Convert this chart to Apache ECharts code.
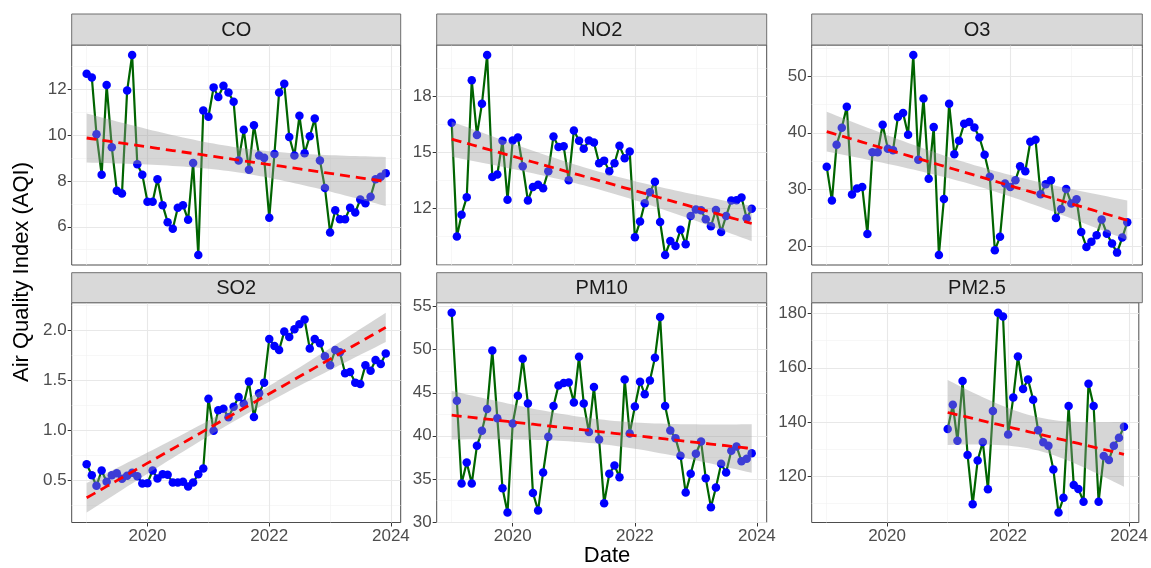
<!DOCTYPE html>
<html>
<head>
<meta charset="utf-8">
<script src="https://cdn.jsdelivr.net/npm/echarts@6/dist/echarts.min.js"></script>
<style>
  html, body { margin: 0; padding: 0; background: #ffffff; }
  #chart { width: 1151px; height: 568px; }
</style>
</head>
<body>
<div id="chart"></div>
<script>
// Monthly observation dates, Jan 2019 – Dec 2023
const firstYear = 2019, lastYear = 2023;
const monthDates = [];
for (let y = firstYear; y <= lastYear; y++) {
  for (let m = 0; m < 12; m++) monthDates.push(Date.UTC(y, m, 1));
}

// Monthly AQI per pollutant
const coValues = [12.66, 12.5, 10.03, 8.27, 12.17, 9.46, 7.57, 7.45, 11.93, 13.48,
  8.72, 8.27, 7.09, 7.09, 8.07, 6.94, 6.2, 5.91, 6.83, 6.94,
  6.3, 8.78, 4.77, 11.06, 10.79, 12.07, 11.65, 12.14, 11.85, 11.44,
  8.89, 10.22, 8.48, 10.42, 9.1, 9.0, 6.39, 9.17, 11.85, 12.23,
  9.91, 9.1, 10.83, 9.2, 9.94, 10.71, 8.89, 7.69, 5.75, 6.72,
  6.33, 6.33, 6.83, 6.62, 7.19, 7.02, 7.31, 8.07, 8.18, 8.33];

const no2Values = [16.57, 10.5, 11.67, 12.6, 18.83, 15.91, 17.58, 20.18, 13.68, 13.81,
  15.61, 12.47, 15.62, 15.78, 14.25, 12.42, 13.15, 13.27, 13.08, 13.99,
  15.84, 15.28, 15.32, 13.5, 16.16, 15.61, 15.18, 15.62, 15.52, 14.41,
  14.55, 13.99, 14.41, 15.34, 14.68, 15.04, 10.46, 11.3, 12.28, 12.86,
  13.42, 11.28, 9.52, 10.26, 10.0, 10.87, 10.09, 11.6, 11.94, 11.9,
  11.42, 11.05, 11.92, 10.75, 11.6, 12.42, 12.44, 12.58, 11.48, 11.99];

const o3Values = [33.99, 28.04, 37.88, 40.88, 44.6, 29.1, 30.16, 30.45, 22.14, 36.58,
  36.58, 41.41, 37.17, 36.94, 42.77, 43.48, 39.65, 53.73, 35.23, 46.07,
  31.87, 41.0, 18.43, 28.33, 45.13, 36.23, 38.59, 41.59, 41.89, 40.94,
  39.17, 36.11, 32.22, 19.26, 21.67, 31.04, 30.45, 31.63, 34.11, 33.22,
  38.41, 38.76, 29.16, 30.93, 31.63, 24.97, 26.56, 30.1, 27.51, 28.27,
  22.5, 19.85, 20.79, 21.91, 24.68, 22.2, 20.44, 18.85, 21.5, 24.21];

const so2Values = [0.664, 0.554, 0.448, 0.601, 0.488, 0.554, 0.574, 0.518, 0.548, 0.578,
  0.544, 0.471, 0.475, 0.601, 0.521, 0.564, 0.558, 0.481, 0.481, 0.488,
  0.441, 0.481, 0.564, 0.621, 1.316, 0.997, 1.2, 1.216, 1.13, 1.236,
  1.333, 1.266, 1.486, 1.133, 1.369, 1.476, 1.911, 1.841, 1.801, 1.984,
  1.931, 2.008, 2.058, 2.104, 1.815, 1.911, 1.868, 1.738, 1.648, 1.801,
  1.778, 1.569, 1.582, 1.476, 1.462, 1.648, 1.595, 1.702, 1.662, 1.765];

const pm10Values = [54.3, 44.07, 34.46, 36.9, 34.46, 38.84, 40.58, 43.1, 49.92, 42.05,
  33.91, 31.09, 41.43, 44.65, 48.95, 43.76, 33.37, 31.32, 35.74, 39.88,
  43.45, 45.85, 46.12, 46.2, 43.88, 49.19, 43.76, 40.43, 45.66, 39.57,
  32.17, 35.58, 36.55, 35.19, 46.55, 40.27, 43.41, 46.28, 44.84, 46.43,
  49.07, 53.8, 43.45, 40.62, 39.73, 37.67, 33.41, 35.58, 37.91, 39.34,
  35.08, 31.71, 33.99, 36.74, 35.74, 38.26, 38.76, 37.05, 37.33, 37.98];

// PM2.5 is only recorded from Jan 2021
const pm25Values = [null, null, null, null, null, null, null, null, null, null, null, null,
  null, null, null, null, null, null, null, null, null, null, null, null,
  137.42, 146.4, 133.1, 155.1, 127.9, 109.7, 125.9, 132.7, 115.3, 144.1,
  180.3, 178.9, 135.4, 149.1, 164.2, 152.2, 155.7, 148.2, 137.0, 132.6,
  131.3, 122.5, 106.7, 112.1, 145.9, 116.8, 115.4, 110.7, 154.1, 145.9,
  110.7, 127.5, 126.0, 131.3, 134.2, 138.3];

const panelNames = ['CO', 'NO2', 'O3', 'SO2', 'PM10', 'PM2.5'];
const panelValues = [coValues, no2Values, o3Values, so2Values, pm10Values, pm25Values];

// Axis breaks
const xTickYears = [2020, 2022, 2024];
const xMinorYears = [2019, 2021, 2023];
const coTicks = [6, 8, 10, 12];
const no2Ticks = [12, 15, 18];
const o3Ticks = [20, 30, 40, 50];
const so2Ticks = [0.5, 1.0, 1.5, 2.0];
const pm10Ticks = [30, 35, 40, 45, 50, 55];
const pm25Ticks = [120, 140, 160, 180];
const panelTicks = [coTicks, no2Ticks, o3Ticks, so2Ticks, pm10Ticks, pm25Ticks];
const panelDecimals = [0, 0, 0, 1, 0, 0];

// ---- layout (pixels) ----
const FONT = '"Liberation Sans", Arial, Helvetica, sans-serif';
const colLayout = [
  { left: 71.7, width: 329 },
  { left: 436.7, width: 330 },
  { left: 811.7, width: 330.6 }
];
const rowLayout = [
  { stripTop: 14, top: 45, height: 220 },
  { stripTop: 272.7, top: 302.7, height: 219.8 }
];

// two-sided 95% t quantile (Cornish–Fisher expansion)
function t975(df) {
  const z = 1.959963985;
  const z3 = z * z * z, z5 = z3 * z * z, z7 = z5 * z * z;
  const g1 = (z3 + z) / 4;
  const g2 = (5 * z5 + 16 * z3 + 3 * z) / 96;
  const g3 = (3 * z7 + 19 * z5 + 17 * z3 - 15 * z) / 384;
  return z + g1 / df + g2 / (df * df) + g3 / (df * df * df);
}

// ordinary least squares with 95% confidence band
function linearFit(xs, ys) {
  const n = xs.length;
  const x0 = xs[0];
  const u = xs.map(x => (x - x0) / 864e5);
  const ub = u.reduce((a, b) => a + b, 0) / n;
  const yb = ys.reduce((a, b) => a + b, 0) / n;
  let sxx = 0, sxy = 0;
  for (let i = 0; i < n; i++) { sxx += (u[i] - ub) ** 2; sxy += (u[i] - ub) * (ys[i] - yb); }
  const b = sxy / sxx, a = yb - b * ub;
  let sse = 0;
  for (let i = 0; i < n; i++) sse += (ys[i] - a - b * u[i]) ** 2;
  const s = Math.sqrt(sse / (n - 2));
  const tq = t975(n - 2);
  return u.map(ui => {
    const fit = a + b * ui;
    const se = s * Math.sqrt(1 / n + (ui - ub) ** 2 / sxx);
    return { fit, lo: fit - tq * se, hi: fit + tq * se };
  });
}

const tMin0 = monthDates[0], tMax0 = monthDates[monthDates.length - 1];
const tPad = (tMax0 - tMin0) * 0.05;
const xMin = tMin0 - tPad, xMax = tMax0 + tPad;
const xTickTimes = xTickYears.map(y => Date.UTC(y, 0, 1));
const xMinorTimes = xMinorYears.map(y => Date.UTC(y, 0, 1));

const grids = [], xAxes = [], yAxes = [], series = [], graphics = [];

panelNames.forEach((name, p) => {
  const col = colLayout[p % 3], row = rowLayout[Math.floor(p / 3)];
  const isBottom = p >= 3;
  const vals = panelValues[p];
  const xs = [], ys = [];
  vals.forEach((v, i) => { if (v != null) { xs.push(monthDates[i]); ys.push(v); } });
  const band = linearFit(xs, ys);

  let lo = Math.min(...ys, ...band.map(d => d.lo));
  let hi = Math.max(...ys, ...band.map(d => d.hi));
  const pad = (hi - lo) * 0.05;
  lo -= pad; hi += pad;

  const ticks = panelTicks[p];
  const step = ticks[1] - ticks[0];
  const yMinor = [];
  for (let k = -1; k <= ticks.length; k++) {
    const base = ticks[0] + k * step;
    [base, base + step / 2].forEach(v => {
      if (v > lo && v < hi && !ticks.some(t => Math.abs(t - v) < 1e-9)) yMinor.push(v);
    });
  }

  grids.push({
    left: col.left, top: row.top, width: col.width, height: row.height,
    show: true, backgroundColor: '#ffffff', borderColor: '#4d4d4d', borderWidth: 1
  });

  xAxes.push({
    type: 'value', gridIndex: p, min: xMin, max: xMax,
    axisLine: { show: false },
    splitLine: { show: false },
    axisTick: { show: isBottom, customValues: xTickTimes, length: 4, lineStyle: { color: '#333333', width: 1 } },
    axisLabel: {
      show: isBottom, customValues: xTickTimes, margin: 5,
      color: '#4d4d4d', fontSize: 17, fontFamily: FONT,
      formatter: v => String(new Date(v).getUTCFullYear())
    }
  });

  const dec = panelDecimals[p];
  yAxes.push({
    type: 'value', gridIndex: p, min: lo, max: hi,
    axisLine: { show: false },
    splitLine: { show: false },
    axisTick: { show: true, customValues: ticks, length: 4, lineStyle: { color: '#333333', width: 1 } },
    axisLabel: {
      customValues: ticks, margin: 5,
      color: '#4d4d4d', fontSize: 17, fontFamily: FONT,
      formatter: v => Number(v).toFixed(dec)
    }
  });

  const major = { color: '#e8e8e8', width: 1.1, type: 'solid' };
  const minor = { color: '#f2f2f2', width: 0.6, type: 'solid' };
  const gridLines = []
    .concat(xMinorTimes.map(t => ({ xAxis: t, lineStyle: minor })))
    .concat(yMinor.map(v => ({ yAxis: v, lineStyle: minor })))
    .concat(xTickTimes.map(t => ({ xAxis: t, lineStyle: major })))
    .concat(ticks.map(v => ({ yAxis: v, lineStyle: major })));

  series.push({
    type: 'line', xAxisIndex: p, yAxisIndex: p, data: [], z: 1, silent: true,
    markLine: { silent: true, z: 1, symbol: ['none', 'none'], label: { show: false },
      emphasis: { disabled: true }, animation: false, data: gridLines }
  });

  const pts = xs.map((x, i) => [x, ys[i]]);
  series.push({
    type: 'line', xAxisIndex: p, yAxisIndex: p, data: pts, z: 2,
    showSymbol: false, symbol: 'none',
    lineStyle: { color: '#006400', width: 2.2 }
  });
  series.push({
    type: 'scatter', xAxisIndex: p, yAxisIndex: p, data: pts, z: 3,
    symbolSize: 8.5, itemStyle: { color: '#0000ff', opacity: 1 }
  });

  // confidence band drawn as one polygon over the points
  const bandLo = xs.map((x, i) => [x, band[i].lo]);
  const bandHi = xs.map((x, i) => [x, band[i].hi]);
  series.push({
    type: 'custom', xAxisIndex: p, yAxisIndex: p, z: 4, silent: true,
    data: [[xs[0], band[0].fit]],
    renderItem: (params, api) => {
      const ring = bandLo.concat(bandHi.slice().reverse()).map(pt => api.coord(pt));
      return {
        type: 'polygon',
        shape: { points: ring },
        style: { fill: 'rgba(153,153,153,0.4)', stroke: 'none' }
      };
    }
  });
  series.push({
    type: 'line', xAxisIndex: p, yAxisIndex: p, z: 5,
    data: xs.map((x, i) => [x, band[i].fit]),
    symbol: 'none',
    lineStyle: { color: '#ff0000', width: 2.8, type: [10, 6] }
  });

  // facet strip
  graphics.push({
    type: 'rect', z: 10,
    shape: { x: col.left, y: row.stripTop, width: col.width, height: row.top - row.stripTop },
    style: { fill: '#d9d9d9', stroke: '#6f6f6f', lineWidth: 1 }
  });
  graphics.push({
    type: 'text', z: 11,
    x: col.left + col.width / 2, y: row.stripTop + (row.top - row.stripTop) / 2 + 1,
    style: { text: name, fill: '#1a1a1a', font: '20px ' + FONT,
      textAlign: 'center', textVerticalAlign: 'middle', align: 'center', verticalAlign: 'middle' }
  });
});

// axis titles
graphics.push({
  type: 'text', z: 11, x: 607, y: 556,
  style: { text: 'Date', fill: '#000000', font: '22px ' + FONT,
    textAlign: 'center', textVerticalAlign: 'middle', align: 'center', verticalAlign: 'middle' }
});
graphics.push({
  type: 'text', z: 11, x: 22, y: 272, rotation: Math.PI / 2,
  style: { text: 'Air Quality Index (AQI)', fill: '#000000', font: '22px ' + FONT,
    textAlign: 'center', textVerticalAlign: 'middle', align: 'center', verticalAlign: 'middle' }
});

const chart = echarts.init(document.getElementById('chart'), null, { renderer: 'canvas' });
chart.setOption({
  animation: false,
  backgroundColor: '#ffffff',
  grid: grids,
  xAxis: xAxes,
  yAxis: yAxes,
  series: series,
  graphic: graphics
});
</script>
</body>
</html>
